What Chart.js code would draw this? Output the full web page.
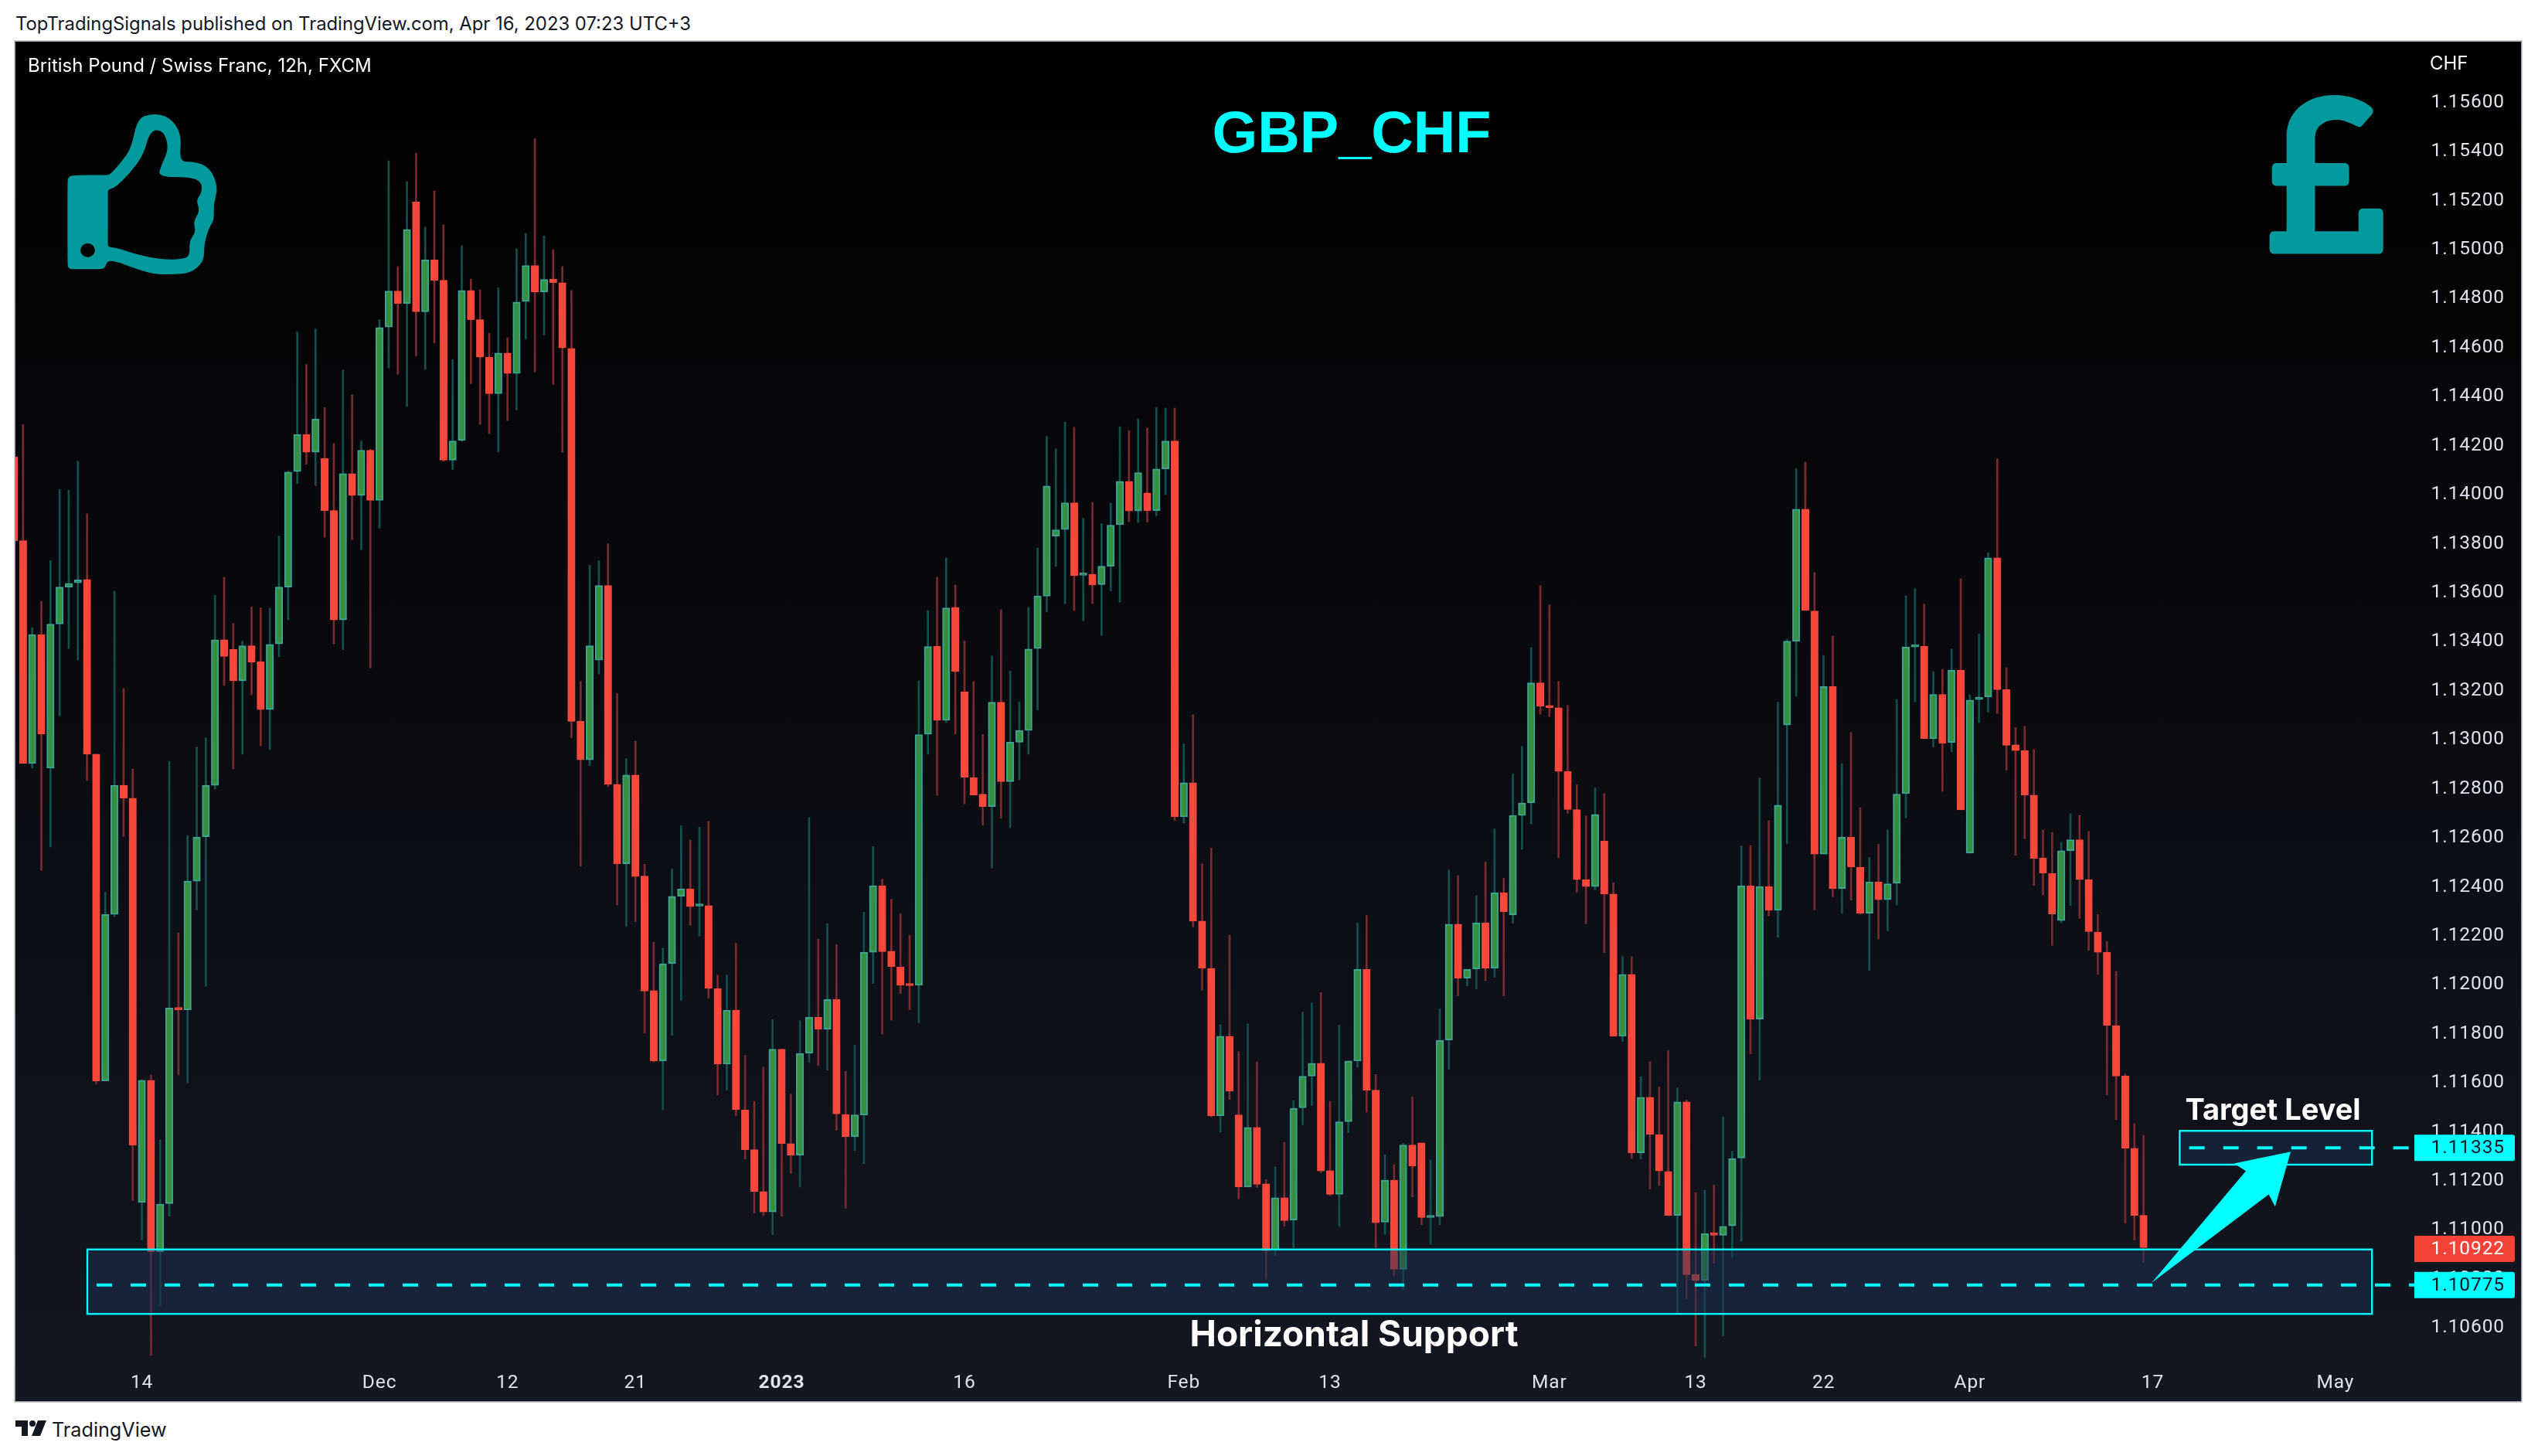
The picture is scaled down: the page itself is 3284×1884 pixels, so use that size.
<!DOCTYPE html>
<html>
<head>
<meta charset="utf-8">
<title>GBP_CHF</title>
<script src="https://cdn.jsdelivr.net/npm/chart.js@4"></script>
<style>
  html, body { margin: 0; padding: 0; background: #ffffff; width: 3284px; height: 1884px; overflow: hidden; }
  #pane { position: absolute; left: 20px; top: 54px; width: 3242px; height: 1759px;
          background: linear-gradient(#000000, #131722); box-shadow: 0 0 0 1.5px #9a9ea8; }
  #head { position: absolute; left: 20px; top: 16px; font: 23.85px Inter, sans-serif; color: #131722; white-space: nowrap; }
  #foot { position: absolute; left: 67px; top: 1835px; font: 25.2px Inter, sans-serif; color: #131722; white-space: nowrap; }
  #logo { position: absolute; left: 20px; top: 1838px; }
</style>
</head>
<body>
<div id="head">TopTradingSignals published on TradingView.com, Apr 16, 2023 07:23 UTC+3</div>
<canvas id="pane" width="3242" height="1759"></canvas>
<svg id="logo" width="40" height="21" viewBox="0 0 40 21">
  <path d="M0 0H16V20H8V8H0Z" fill="#131722"/><circle cx="22" cy="4" r="4" fill="#131722"/>
  <path d="M29 0H40L32 20H21Z" fill="#131722"/>
</svg>
<div id="foot">TradingView</div>
<script>
const opens = [
1.14154,1.13812,1.12903,1.13429,1.12884,1.13472,1.13623,1.13640,1.13654,1.12941,
1.11608,1.12287,1.12814,1.12761,1.11112,1.11610,1.10911,1.11107,1.11907,1.11898,
1.12423,1.12604,1.12814,1.13408,1.13368,1.13240,1.13383,1.13319,1.13123,1.13391,
1.13623,1.14094,1.14245,1.14173,1.14147,1.13935,1.13489,1.14086,1.13996,1.14181,
1.13977,1.14684,1.14831,1.14780,1.15194,1.14746,1.14958,1.14875,1.14141,1.14221,
1.14833,1.14714,1.14561,1.14412,1.14578,1.14495,1.14788,1.14935,1.14827,1.14880,
1.14865,1.14597,1.13075,1.12918,1.13325,1.13629,1.12818,1.12494,1.12856,1.12444,
1.11976,1.11689,1.12086,1.12361,1.12391,1.12321,1.12323,1.11985,1.11676,1.11896,
1.11490,1.11327,1.11156,1.11073,1.11737,1.11352,1.11304,1.11721,1.11867,1.11818,
1.11941,1.11471,1.11380,1.11469,1.12133,1.12404,1.12137,1.12072,1.12000,1.11998,
1.13023,1.13381,1.13079,1.13540,1.13196,1.12846,1.12778,1.12727,1.13153,1.12829,
1.12990,1.13038,1.13372,1.13586,1.13831,1.13858,1.13967,1.13671,1.13674,1.13633,
1.13708,1.13877,1.14054,1.13933,1.14007,1.13935,1.14105,1.14219,1.12685,1.12824,
1.12260,1.12067,1.11465,1.11790,1.11469,1.11175,1.11418,1.11188,1.10917,1.11131,
1.11040,1.11498,1.11627,1.11680,1.11241,1.11145,1.11441,1.11689,1.12063,1.11570,
1.11031,1.11203,1.10839,1.11346,1.11355,1.11050,1.11054,1.11775,1.12247,1.12027,
1.12065,1.12253,1.12067,1.12376,1.12285,1.12691,1.12742,1.13232,1.13136,1.13130,
1.12871,1.12715,1.12429,1.12401,1.12586,1.12370,1.11790,1.12042,1.11314,1.11541,
1.11389,1.11238,1.11059,1.11522,1.10817,1.10794,1.10985,1.10978,1.11016,1.11293,
1.12404,1.11860,1.12401,1.12304,1.13060,1.13402,1.13941,1.13525,1.12533,1.13217,
1.12393,1.12602,1.12480,1.12292,1.12420,1.12347,1.12414,1.12780,1.13378,1.13381,
1.13004,1.13185,1.12989,1.13283,1.12537,1.13164,1.13174,1.13742,1.13204,1.12979,
1.12956,1.12774,1.12518,1.12454,1.12262,1.12547,1.12592,1.12429,1.12215,1.12133,
1.11833,1.11628,1.11333,1.11059];
const closes = [
1.13812,1.12903,1.13429,1.13023,1.13472,1.13623,1.13638,1.13652,1.12941,1.11608,
1.12287,1.12814,1.12761,1.11346,1.11610,1.10911,1.11105,1.11905,1.11898,1.12423,
1.12602,1.12814,1.13408,1.13340,1.13240,1.13383,1.13317,1.13123,1.13389,1.13623,
1.14092,1.14245,1.14173,1.14308,1.13935,1.13489,1.14086,1.13996,1.14181,1.13977,
1.14682,1.14831,1.14780,1.15082,1.14746,1.14958,1.14875,1.14141,1.14219,1.14833,
1.14714,1.14561,1.14412,1.14578,1.14495,1.14786,1.14935,1.14827,1.14878,1.14865,
1.14599,1.13075,1.12918,1.13383,1.13629,1.12818,1.12494,1.12856,1.12442,1.11974,
1.11689,1.12086,1.12361,1.12391,1.12319,1.12325,1.11985,1.11676,1.11896,1.11490,
1.11327,1.11156,1.11073,1.11737,1.11352,1.11304,1.11720,1.11867,1.11818,1.11941,
1.11473,1.11380,1.11469,1.12133,1.12404,1.12135,1.12074,1.11998,1.11996,1.13021,
1.13380,1.13079,1.13538,1.13278,1.12846,1.12774,1.12727,1.13153,1.12829,1.12990,
1.13038,1.13370,1.13586,1.14035,1.13856,1.13967,1.13669,1.13676,1.13631,1.13708,
1.13875,1.14054,1.13933,1.14090,1.13935,1.14105,1.14219,1.12685,1.12824,1.12260,
1.12067,1.11465,1.11790,1.11566,1.11175,1.11418,1.11186,1.10915,1.11131,1.11038,
1.11496,1.11627,1.11680,1.11240,1.11145,1.11441,1.11689,1.12063,1.11570,1.11029,
1.11203,1.10839,1.11346,1.11260,1.11050,1.11054,1.11773,1.12247,1.12027,1.12063,
1.12253,1.12067,1.12376,1.12298,1.12691,1.12742,1.13232,1.13136,1.13130,1.12871,
1.12715,1.12429,1.12401,1.12695,1.12370,1.11790,1.12042,1.11314,1.11541,1.11389,
1.11240,1.11059,1.11522,1.10817,1.10794,1.10985,1.10978,1.11014,1.11291,1.12404,
1.11860,1.12401,1.12304,1.12733,1.13402,1.13941,1.13527,1.12533,1.13217,1.12393,
1.12602,1.12480,1.12292,1.12420,1.12347,1.12412,1.12778,1.13378,1.13381,1.13004,
1.13185,1.12985,1.13283,1.12714,1.13162,1.13172,1.13742,1.13204,1.12977,1.12956,
1.12774,1.12516,1.12456,1.12289,1.12547,1.12592,1.12429,1.12217,1.12133,1.11835,
1.11627,1.11333,1.11059,1.10927];
const highs = [
1.14154,1.14287,1.13457,1.13565,1.13731,1.14022,1.14018,1.14136,1.13922,1.12941,
1.12378,1.13606,1.13209,1.12880,1.11613,1.11632,1.11367,1.12913,1.12211,1.12609,
1.12970,1.13008,1.13589,1.13663,1.13474,1.13402,1.13542,1.13538,1.13536,1.13831,
1.14096,1.14665,1.14531,1.14676,1.14355,1.14209,1.14508,1.14408,1.14219,1.14185,
1.14714,1.15362,1.14931,1.15277,1.15394,1.15092,1.15239,1.15101,1.14551,1.15016,
1.14880,1.14835,1.14659,1.14844,1.14640,1.15003,1.15065,1.15453,1.15056,1.15000,
1.14931,1.14833,1.13238,1.13712,1.13731,1.13799,1.13189,1.12922,1.12994,1.12492,
1.12173,1.12150,1.12473,1.12649,1.12590,1.12643,1.12666,1.12040,1.12040,1.12169,
1.11712,1.11524,1.11664,1.11858,1.11737,1.11554,1.11854,1.12683,1.12186,1.12249,
1.12163,1.11647,1.11754,1.12296,1.12564,1.12431,1.12349,1.12289,1.12201,1.13240,
1.13527,1.13663,1.13742,1.13631,1.13404,1.13238,1.13021,1.13342,1.13531,1.13281,
1.13155,1.13540,1.13782,1.14238,1.14187,1.14296,1.14275,1.13903,1.13969,1.13882,
1.13965,1.14277,1.14262,1.14309,1.14272,1.14355,1.14353,1.14353,1.12983,1.13102,
1.12494,1.12558,1.11837,1.12203,1.11727,1.11841,1.11685,1.11205,1.11257,1.11357,
1.11528,1.11888,1.11926,1.11968,1.11524,1.11835,1.11689,1.12251,1.12283,1.11634,
1.11306,1.11266,1.11353,1.11543,1.11355,1.11285,1.11902,1.12469,1.12446,1.12063,
1.12363,1.12501,1.12636,1.12435,1.12860,1.12973,1.13376,1.13629,1.13550,1.13238,
1.13140,1.12816,1.12689,1.12803,1.12780,1.12416,1.12116,1.12116,1.11625,1.11687,
1.11583,1.11731,1.11579,1.11530,1.11152,1.11162,1.11183,1.11461,1.11321,1.12566,
1.12569,1.12843,1.12670,1.13153,1.13410,1.14107,1.14132,1.13682,1.13344,1.13423,
1.12903,1.13030,1.12723,1.12520,1.12573,1.12632,1.13164,1.13587,1.13616,1.13553,
1.13278,1.13287,1.13370,1.13657,1.13183,1.13432,1.13763,1.14147,1.13294,1.13051,
1.13055,1.12960,1.12632,1.12622,1.12581,1.12698,1.12691,1.12626,1.12287,1.12177,
1.12055,1.11636,1.11433,1.11386];
const lows = [
1.13812,1.12903,1.12884,1.12467,1.12562,1.13098,1.13372,1.13325,1.12833,1.11594,
1.11608,1.12277,1.12605,1.11120,1.10959,1.10488,1.10691,1.11056,1.11632,1.11600,
1.12306,1.11993,1.12799,1.13221,1.12880,1.12941,1.13183,1.12975,1.12960,1.13338,
1.13489,1.14045,1.14124,1.14037,1.13826,1.13391,1.13368,1.13816,1.13775,1.13293,
1.13863,1.14517,1.14491,1.14360,1.14566,1.14510,1.14619,1.14136,1.14103,1.14217,
1.14453,1.14287,1.14249,1.14175,1.14302,1.14345,1.14635,1.14500,1.14652,1.14449,
1.14173,1.13008,1.12484,1.12894,1.13268,1.12808,1.12325,1.12239,1.12258,1.11803,
1.11685,1.11490,1.11794,1.11936,1.12243,1.12199,1.11945,1.11551,1.11570,1.11465,
1.11289,1.11069,1.11059,1.10980,1.11056,1.11230,1.11175,1.11683,1.11670,1.11651,
1.11406,1.11088,1.11323,1.11270,1.12006,1.11799,1.11856,1.11964,1.11898,1.11845,
1.12941,1.12774,1.13070,1.13023,1.12738,1.12774,1.12651,1.12476,1.12679,1.12641,
1.12837,1.12941,1.13121,1.13521,1.13708,1.13555,1.13527,1.13485,1.13555,1.13425,
1.13608,1.13561,1.13890,1.13886,1.13888,1.13914,1.14000,1.12670,1.12660,1.12236,
1.11978,1.11460,1.11399,1.11532,1.11126,1.11175,1.11173,1.10798,1.10896,1.11016,
1.10927,1.11429,1.11507,1.11234,1.11139,1.11014,1.11397,1.11664,1.11480,1.10927,
1.10982,1.10811,1.10756,1.11135,1.11021,1.10940,1.11021,1.11655,1.11955,1.11995,
1.11983,1.12017,1.12031,1.11955,1.12251,1.12552,1.12657,1.13104,1.13094,1.12518,
1.12700,1.12378,1.12249,1.12387,1.12131,1.11790,1.11769,1.11291,1.11289,1.11166,
1.11181,1.11059,1.10661,1.10720,1.10526,1.10479,1.10864,1.10568,1.10887,1.10953,
1.11718,1.11611,1.12281,1.12194,1.12575,1.13177,1.13527,1.12306,1.12533,1.12359,
1.12292,1.12346,1.12287,1.12059,1.12186,1.12220,1.12325,1.12681,1.13155,1.13004,
1.12970,1.12789,1.12951,1.12714,1.12537,1.13070,1.13113,1.13107,1.12875,1.12528,
1.12596,1.12406,1.12366,1.12161,1.12253,1.12323,1.12271,1.12141,1.12042,1.11551,
1.11450,1.11027,1.10959,1.10868];

const priceTicks = [1.156,1.154,1.152,1.150,1.148,1.146,1.144,1.142,1.140,1.138,1.136,1.134,1.132,
                    1.130,1.128,1.126,1.124,1.122,1.120,1.118,1.116,1.114,1.112,1.110,1.108,1.106];
const timeTickBars = [14,40,54,68,84,104,128,144,168,184,198,214,234,254];
const timeTickLabels = ['14','Dec','12','21','2023','16','Feb','13','Mar','13','22','Apr','17','May'];

// drawn levels, in bars and price
const supportZone = { fromBar: 8.03, toBar: 258, top: 1.10920, bottom: 1.10657 };
const targetZone = { fromBar: 236.96, toBar: 258, top: 1.11404, bottom: 1.11266 };
const supportLevel = 1.10775, targetLevel = 1.11335, lastPrice = 1.10922;
const arrowBars = [233.9, 244.2, 242.9, 249.1, 247.4, 246.7];
const arrowPrices = [1.10784, 1.11240, 1.11271, 1.11319, 1.11095, 1.11145];

const UP = '#37903f', UP_BORDER = '#3fa394', UP_WICK = '#14504d';
const DOWN = '#f8483c', DOWN_WICK = '#7b2a2e';
const TEAL = '#029a9d', CYAN = '#00ffff';
const FONT = 'Inter, sans-serif';
const AXIS_FONT = 'Roboto, sans-serif';

const isUp = opens.map((o, i) => closes[i] >= o);

// smooth closed outline through a list of x,y pairs
function smoothPath(ctx, pts) {
  const n = pts.length;
  ctx.moveTo((pts[n - 1][0] + pts[0][0]) / 2, (pts[n - 1][1] + pts[0][1]) / 2);
  for (let i = 0; i < n; i++) {
    const p = pts[i], q = pts[(i + 1) % n];
    ctx.quadraticCurveTo(p[0], p[1], (p[0] + q[0]) / 2, (p[1] + q[1]) / 2);
  }
  ctx.closePath();
}

function drawThumb(ctx) {
  ctx.save();
  ctx.translate(-20, -54);
  ctx.scale(1 / 1.912, 1 / 1.668);
  ctx.fillStyle = TEAL;
  ctx.beginPath();
  smoothPath(ctx, [[167,400],[168,380],[190,378],[262,378],[272,377],[300,350],[325,320],[340,255],[378,245],[420,252],[450,290],[443,350],[480,348],
    [520,362],[540,405],[528,440],[530,475],[518,490],[505,525],[505,565],[470,590],[430,592],[380,592],[330,578],
    [290,565],[265,562],[260,580],[240,581],[190,581],[168,581],[167,560]]);
  smoothPath(ctx, [[267,420],[267,409],[285,405],[320,375],[355,335],[372,280],[405,282],[418,320],[400,355],[390,382],[470,382],
    [498,392],[500,415],[485,432],[495,455],[478,478],[485,500],[468,520],[470,552],[450,560],[400,560],[340,550],
    [290,535],[267,533],[267,525]]);
  ctx.ellipse(217, 540, 18, 15, 0, 0, Math.PI * 2);
  ctx.fill('evenodd');
  ctx.restore();
}

function drawPound(ctx) {
  ctx.save();
  ctx.translate(2440, -54);
  ctx.scale(1 / 1.903, 1 / 1.668);
  ctx.fillStyle = TEAL;
  ctx.strokeStyle = TEAL;
  ctx.lineWidth = 20;
  ctx.lineJoin = 'round';
  ctx.beginPath();
  ctx.moveTo(959, 362);
  ctx.lineTo(959, 290);
  ctx.bezierCurveTo(962, 245, 1005, 215, 1068, 215);
  ctx.bezierCurveTo(1100, 215, 1135, 226, 1152, 240);
  ctx.lineTo(1128, 264);
  ctx.bezierCurveTo(1110, 256, 1090, 248, 1072, 248);
  ctx.bezierCurveTo(1030, 250, 1009, 270, 1009, 298);
  ctx.lineTo(1009, 362);
  ctx.lineTo(1093, 362);
  ctx.lineTo(1093, 391);
  ctx.lineTo(1009, 391);
  ctx.lineTo(1009, 509);
  ctx.lineTo(1136, 509);
  ctx.lineTo(1136, 460);
  ctx.lineTo(1177, 460);
  ctx.lineTo(1177, 538);
  ctx.lineTo(917, 538);
  ctx.lineTo(917, 509);
  ctx.lineTo(959, 509);
  ctx.lineTo(959, 391);
  ctx.lineTo(923, 391);
  ctx.lineTo(923, 362);
  ctx.closePath();
  ctx.fill();
  ctx.stroke();
  ctx.restore();
}

const marksPlugin = {
  id: 'marks',
  beforeDraw(chart) {
    chart.ctx.letterSpacing = '0.9px';
  },
  afterDatasetsDraw(chart) {
    const { ctx, scales: { x, y } } = chart;
    ctx.save();
    ctx.letterSpacing = '0px';
    // zones go over the candles, the fill lets the wicks show through
    [supportZone, targetZone].forEach(z => {
      const l = x.getPixelForValue(z.fromBar), r = x.getPixelForValue(z.toBar);
      const t = y.getPixelForValue(z.top), b = y.getPixelForValue(z.bottom);
      ctx.fillStyle = 'rgba(27,49,81,0.5)';
      ctx.fillRect(l, t, r - l, b - t);
      ctx.strokeStyle = CYAN;
      ctx.lineWidth = 2.4;
      ctx.strokeRect(l, t, r - l, b - t);
    });
    ctx.strokeStyle = CYAN;
    ctx.lineWidth = 4;
    ctx.setLineDash([20, 24]);
    [[supportLevel, 9.05], [targetLevel, 238]].forEach(([p, from]) => {
      const py = y.getPixelForValue(p);
      ctx.beginPath();
      ctx.moveTo(x.getPixelForValue(from), py);
      ctx.lineTo(3104, py);
      ctx.stroke();
    });
    ctx.setLineDash([]);
    // arrow
    ctx.fillStyle = CYAN;
    ctx.beginPath();
    arrowBars.forEach((b, i) => {
      const px = x.getPixelForValue(b), py = y.getPixelForValue(arrowPrices[i]);
      if (i === 0) ctx.moveTo(px, py); else ctx.lineTo(px, py);
    });
    ctx.closePath();
    ctx.fill();
    // texts
    ctx.textBaseline = 'middle';
    ctx.textAlign = 'left';
    ctx.fillStyle = '#ffffff';
    ctx.font = '24px ' + FONT;
    ctx.fillText('British Pound / Swiss Franc, 12h, FXCM', 16, 32);
    ctx.fillText('CHF', 3124, 29);
    ctx.textAlign = 'center';
    ctx.fillStyle = CYAN;
    ctx.font = 'bold 75.5px "Liberation Sans", sans-serif';
    ctx.fillText('GBP_CHF', 1729, 122);
    ctx.fillStyle = '#ffffff';
    ctx.font = 'bold 46px ' + FONT;
    ctx.fillText('Horizontal Support', 1732, 1674);
    ctx.font = 'bold 38px ' + FONT;
    ctx.fillText('Target Level', 2921, 1384);
    // price tags
    ctx.letterSpacing = '0.9px';
    [[targetLevel, CYAN, '#131722'], [lastPrice, '#f44336', '#ffffff'], [supportLevel, CYAN, '#131722']].forEach(([p, bg, fg]) => {
      const py = y.getPixelForValue(p);
      ctx.fillStyle = bg;
      ctx.beginPath();
      ctx.roundRect(3104, py - 17, 130, 34, [0, 3, 3, 0]);
      ctx.fill();
      ctx.fillStyle = fg;
      ctx.textAlign = 'right';
      ctx.font = '24.5px ' + AXIS_FONT;
      ctx.fillText(p.toFixed(5), 3221, py + 1);
    });
    ctx.letterSpacing = '0px';
    drawThumb(ctx);
    drawPound(ctx);
    ctx.restore();
  }
};

const bars = opens.map((_, i) => i);

new Chart(document.getElementById('pane'), {
  type: 'bar',
  plugins: [marksPlugin],
  data: {
    datasets: [
      {
        label: 'Body',
        order: 1,
        data: bars.map(i => ({ x: i, y: [opens[i], closes[i]] })),
        backgroundColor: bars.map(i => isUp[i] ? UP : DOWN),
        borderColor: bars.map(i => isUp[i] ? UP_BORDER : DOWN),
        borderWidth: 2,
        borderSkipped: false,
        barThickness: 9.5,
        minBarLength: 3,
        grouped: false
      },
      {
        label: 'Wick',
        order: 2,
        data: bars.map(i => ({ x: i, y: [lows[i], highs[i]] })),
        backgroundColor: bars.map(i => isUp[i] ? UP_WICK : DOWN_WICK),
        borderWidth: 0,
        barThickness: 2,
        grouped: false
      }
    ]
  },
  options: {
    responsive: false,
    devicePixelRatio: 1,
    animation: false,
    layout: { padding: 0, autoPadding: false },
    plugins: { legend: { display: false }, tooltip: { enabled: false }, title: { display: false } },
    scales: {
      x: {
        type: 'linear',
        min: 0.169,
        max: 274.3,
        offset: false,
        grid: { display: false, drawTicks: false },
        border: { display: false },
        afterBuildTicks(axis) { axis.ticks = timeTickBars.map(v => ({ value: v })); },
        afterFit(axis) { axis.height = 45; },
        ticks: {
          autoSkip: false,
          maxRotation: 0,
          minRotation: 0,
          padding: 7,
          color: '#e0e3eb',
          font: ctx => ({ family: AXIS_FONT, size: 24.5, weight: ctx.tick && ctx.tick.label === '2023' ? 'bold' : 'normal' }),
          callback: v => timeTickLabels[timeTickBars.indexOf(v)]
        }
      },
      y: {
        type: 'linear',
        position: 'right',
        min: 1.10443,
        max: 1.15848,
        grid: { display: false, drawTicks: false },
        border: { display: false },
        afterBuildTicks(axis) { axis.ticks = priceTicks.map(v => ({ value: v })); },
        afterFit(axis) { axis.width = 0; },
        ticks: {
          mirror: true,
          padding: -21,
          color: '#e0e3eb',
          font: { family: AXIS_FONT, size: 24.5 },
          callback: v => v.toFixed(5)
        }
      }
    }
  }
});
</script>
</body>
</html>
